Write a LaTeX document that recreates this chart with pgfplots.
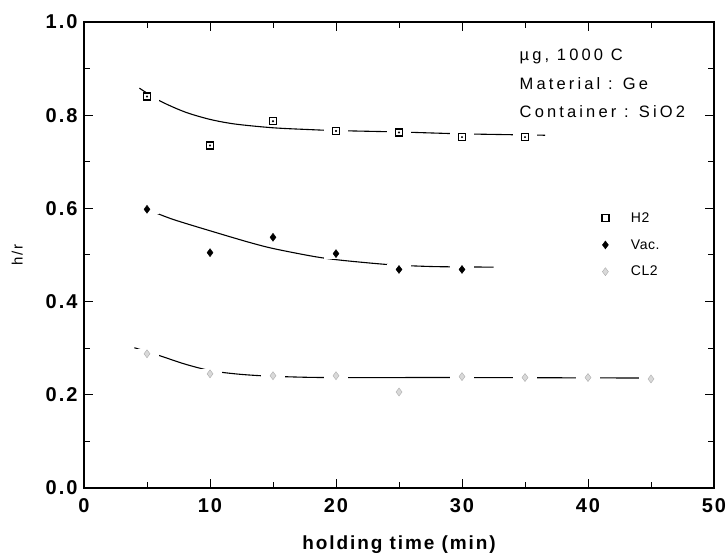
\documentclass[border=0pt]{standalone}
\usepackage{fontspec}
\setmainfont{Liberation Sans}
\newfontfamily\tickfont[LetterSpace=10]{Liberation Sans}
\newfontfamily\notefont[LetterSpace=19]{Liberation Sans}
\newfontfamily\legfont[LetterSpace=4]{Liberation Sans}
\usepackage{pgfplots}
\usepackage{pgfplotstable}
\pgfplotsset{compat=1.18}

% white clearance that breaks the fit line round a point
\pgfdeclareplotmark{gap}{%
  \pgfpathrectangle{\pgfpoint{-12pt}{-5pt}}{\pgfpoint{24pt}{10pt}}%
  \pgfusepathqfill}

% measured points
\pgfplotstableread{
x y
5 0.840
10 0.735
15 0.787
20 0.766
25 0.763
30 0.753
35 0.753
}\hdata
\pgfplotstableread{
x y
5 0.598
10 0.505
15 0.538
20 0.503
25 0.469
30 0.469
}\vdata
\pgfplotstableread{
x y
5 0.288
10 0.245
15 0.241
20 0.241
25 0.206
30 0.239
35 0.237
40 0.237
45 0.234
}\cdata
% fitted curves
\pgfplotstableread{
x y
4.4 0.858
6 0.831
8 0.807
10 0.791
12 0.781
15 0.773
18 0.769
20 0.767
25 0.764
30 0.760
36.6 0.757
}\hfit
\pgfplotstableread{
x y
5.0 0.598
7 0.577
10 0.552
13 0.528
15 0.514
18 0.498
20 0.490
23 0.482
25 0.478
28 0.475
32.5 0.474
}\vfit
\pgfplotstableread{
x y
4.0 0.301
6 0.284
8 0.266
10 0.252
12 0.245
14 0.241
17 0.238
20 0.237
30 0.237
44.3 0.236
}\cfit

\begin{document}
\begin{tikzpicture}
\begin{axis}[
    scale only axis, width=630pt, height=466pt,
    xmin=0, xmax=50, ymin=0, ymax=1.0,
    xtick={0,10,...,50}, minor xtick={5,15,...,45},
    ytick={0,0.2,...,1.0}, minor ytick={0.1,0.3,...,0.9},
    yticklabel style={xshift=-3pt, /pgf/number format/.cd, fixed, fixed zerofill, precision=1},
    xticklabel style={yshift=-7pt},
    /pgf/number format/assume math mode=true,
    ticklabel style={font=\tickfont\bfseries\fontsize{20}{22}\selectfont},
    major tick length=9pt, minor tick length=6pt,
    axis line style={line width=1.3pt}, tick style={line width=1pt, black},
    xlabel={holding time (min)},
    ylabel={h/r},
    xlabel style={font=\tickfont\bfseries\fontsize{19}{22}\selectfont,
        at={(axis description cs:0.5,-0.122)}, anchor=center},
    ylabel style={font=\tickfont\fontsize{15}{16}\selectfont,
        at={(axis description cs:-0.106,0.5)}, anchor=center},
    legend style={draw=none, fill=none, at={(axis cs:40.85,0.600)}, anchor=north west,
        font=\legfont\fontsize{14}{16}\selectfont, row sep=11.5pt,
        /tikz/every odd column/.append style={column sep=20pt}},
    legend cell align=left,
]
\coordinate (SW) at (rel axis cs:0,0);
\coordinate (NE) at (rel axis cs:1,1);
% fit lines
\addplot[forget plot, black, line width=1.1pt, smooth] table {\hfit};
\addplot[forget plot, black, line width=1.1pt, smooth] table {\vfit};
\addplot[forget plot, black, line width=1.1pt, smooth] table {\cfit};
% clearance round the points
\addplot[forget plot, only marks, mark=gap, white] table {\hdata};
\addplot[forget plot, only marks, mark=gap, white] table {\vdata};
\addplot[forget plot, only marks, mark=gap, white] table {\cdata};
% points
\addplot[only marks, mark=square*, mark size=3.5pt,
    mark options={fill=white, draw=black, line width=1.4pt}] table {\hdata};
\addlegendentry{H2}
\addplot[forget plot, only marks, mark=*, mark size=0.8pt, black] table {\hdata};
\addplot[only marks, mark=diamond*, mark size=4pt,
    mark options={fill=black, draw=black}] table {\vdata};
\addlegendentry{Vac.}
\addplot[only marks, mark=diamond*, mark size=4pt,
    mark options={fill=gray!30, draw=gray!65}] table {\cdata};
\addlegendentry{CL2}
\node[anchor=west, font=\notefont\fontsize{16.5}{20}\selectfont]
    at (axis cs:34.3,0.927) {µg, 1000 C};
\node[anchor=west, font=\notefont\fontsize{16.5}{20}\selectfont]
    at (axis cs:34.3,0.867) {Material : Ge};
\node[anchor=west, font=\notefont\fontsize{16.5}{20}\selectfont]
    at (axis cs:34.3,0.807) {Container : SiO2};
\end{axis}
\pgfresetboundingbox
\path[use as bounding box] ([xshift=-84pt,yshift=-68pt]SW) rectangle ([xshift=12pt,yshift=22pt]NE);
\end{tikzpicture}
\end{document}
